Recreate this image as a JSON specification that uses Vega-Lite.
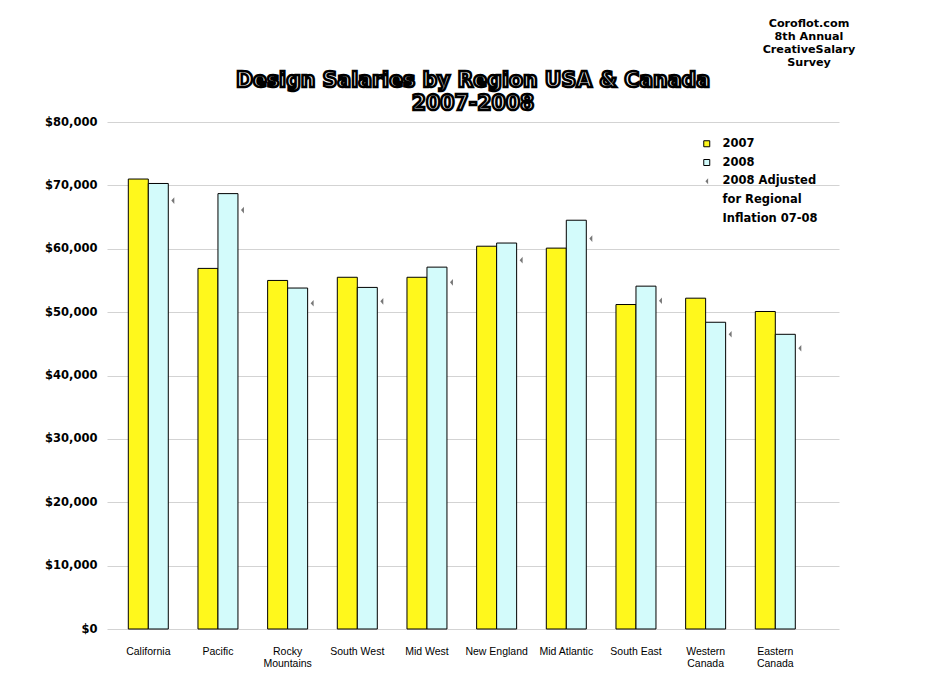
{
  "$schema": "https://vega.github.io/schema/vega-lite/v6.json",
  "background": "white",
  "padding": {"left": 44, "top": 18, "right": 10, "bottom": 10},
  "title": {
    "text": ["Coroflot.com", "8th Annual", "CreativeSalary", "Survey"],
    "anchor": "end",
    "frame": "group",
    "align": "center",
    "dx": -30,
    "font": "DejaVu Sans",
    "fontSize": 11.2,
    "fontWeight": "bold",
    "lineHeight": 13,
    "color": "black",
    "offset": 2
  },
  "data": {
    "values": [
      {"region": "California", "series": "2007", "value": 71000},
      {"region": "California", "series": "2008", "value": 70300},
      {"region": "California", "series": "2008 Adjusted", "value": 67600},
      {"region": "Pacific", "series": "2007", "value": 56900},
      {"region": "Pacific", "series": "2008", "value": 68700},
      {"region": "Pacific", "series": "2008 Adjusted", "value": 66100},
      {"region": "Rocky Mountains", "series": "2007", "value": 55000},
      {"region": "Rocky Mountains", "series": "2008", "value": 53800},
      {"region": "Rocky Mountains", "series": "2008 Adjusted", "value": 51400},
      {"region": "South West", "series": "2007", "value": 55500},
      {"region": "South West", "series": "2008", "value": 53900},
      {"region": "South West", "series": "2008 Adjusted", "value": 51700},
      {"region": "Mid West", "series": "2007", "value": 55500},
      {"region": "Mid West", "series": "2008", "value": 57100},
      {"region": "Mid West", "series": "2008 Adjusted", "value": 54700},
      {"region": "New England", "series": "2007", "value": 60400},
      {"region": "New England", "series": "2008", "value": 60900},
      {"region": "New England", "series": "2008 Adjusted", "value": 58200},
      {"region": "Mid Atlantic", "series": "2007", "value": 60100},
      {"region": "Mid Atlantic", "series": "2008", "value": 64500},
      {"region": "Mid Atlantic", "series": "2008 Adjusted", "value": 61600},
      {"region": "South East", "series": "2007", "value": 51200},
      {"region": "South East", "series": "2008", "value": 54100},
      {"region": "South East", "series": "2008 Adjusted", "value": 51800},
      {"region": "Western Canada", "series": "2007", "value": 52200},
      {"region": "Western Canada", "series": "2008", "value": 48400},
      {"region": "Western Canada", "series": "2008 Adjusted", "value": 46500},
      {"region": "Eastern Canada", "series": "2007", "value": 50100},
      {"region": "Eastern Canada", "series": "2008", "value": 46500},
      {"region": "Eastern Canada", "series": "2008 Adjusted", "value": 44300}
    ]
  },
  "vconcat": [
    {
      "width": 732,
      "height": 507,
      "title": {
        "text": ["Design Salaries by Region USA & Canada", "2007-2008"],
        "anchor": "middle",
        "font": "DejaVu Sans",
        "fontSize": 20.5,
        "fontWeight": "bold",
        "color": "white",
        "lineHeight": 23,
        "offset": 2,
        "encoding": {"stroke": {"value": "black"}, "strokeWidth": {"value": 2.5}}
      },
      "encoding": {
        "x": {
          "field": "region",
          "type": "nominal",
          "sort": ["California", "Pacific", "Rocky Mountains", "South West", "Mid West", "New England", "Mid Atlantic", "South East", "Western Canada", "Eastern Canada"],
          "scale": {"paddingInner": 0, "paddingOuter": 0.2535, "align": 0.183},
          "axis": {
            "title": null,
            "domain": false,
            "ticks": false,
            "grid": false,
            "labelAngle": 0,
            "labelPadding": 17,
            "labelFont": "Liberation Sans",
            "labelFontSize": 10.5,
            "labelColor": "black",
            "labelLineHeight": 12,
            "labelExpr": "indexof(['Rocky Mountains','Western Canada','Eastern Canada'], datum.label) >= 0 ? split(datum.label, ' ') : datum.label"
          }
        },
        "y": {
          "field": "value",
          "type": "quantitative",
          "scale": {"domain": [0, 80000], "nice": false},
          "axis": {
            "title": null,
            "values": [0, 10000, 20000, 30000, 40000, 50000, 60000, 70000, 80000],
            "format": "$,.0f",
            "domain": false,
            "ticks": false,
            "labelPadding": 10,
            "labelFont": "DejaVu Sans",
            "labelFontWeight": "bold",
            "labelFontSize": 11.5,
            "labelColor": "black",
            "gridColor": "#d3d3d3",
            "gridWidth": 1
          }
        }
      },
      "layer": [
        {
          "transform": [{"filter": "datum.series != '2008 Adjusted'"}],
          "mark": {"type": "bar", "strokeWidth": 1, "opacity": 1},
          "encoding": {
            "xOffset": {
              "field": "series",
              "type": "nominal",
              "scale": {"paddingInner": 0, "paddingOuter": 0.742}
            },
            "color": {
              "field": "series",
              "type": "nominal",
              "scale": {
                "domain": ["2007", "2008", "2008 Adjusted", "for Regional", "Inflation 07-08"],
                "range": ["#FFF81C", "#D3FBFB", "#777777", "transparent", "transparent"]
              },
              "legend": {"title": null}
            },
            "stroke": {
              "field": "series",
              "type": "nominal",
              "scale": {
                "domain": ["2007", "2008", "2008 Adjusted", "for Regional", "Inflation 07-08"],
                "range": ["black", "black", "transparent", "transparent", "transparent"]
              },
              "legend": {"title": null}
            }
          }
        },
        {
          "transform": [{"filter": "datum.series == '2008 Adjusted'"}],
          "mark": {"type": "point", "filled": true, "opacity": 1, "size": 44, "xOffset": 24.5},
          "encoding": {
            "color": {
              "field": "series",
              "type": "nominal",
              "scale": {
                "domain": ["2007", "2008", "2008 Adjusted", "for Regional", "Inflation 07-08"],
                "range": ["#FFF81C", "#D3FBFB", "#777777", "transparent", "transparent"]
              },
              "legend": {"title": null}
            },
            "stroke": {
              "field": "series",
              "type": "nominal",
              "scale": {
                "domain": ["2007", "2008", "2008 Adjusted", "for Regional", "Inflation 07-08"],
                "range": ["black", "black", "transparent", "transparent", "transparent"]
              },
              "legend": {"title": null}
            },
            "shape": {
              "field": "series",
              "type": "nominal",
              "scale": {
                "domain": ["2007", "2008", "2008 Adjusted", "for Regional", "Inflation 07-08"],
                "range": ["square", "square", "M 0.45 -1 L -0.45 0 L 0.45 1 Z", "square", "square"]
              },
              "legend": {"title": null}
            }
          }
        }
      ]
    }
  ],
  "config": {
    "view": {"stroke": null},
    "legend": {
      "orient": "none",
      "legendX": 594,
      "legendY": 16,
      "padding": 0,
      "symbolSize": 36,
      "symbolStrokeWidth": 1,
      "labelOffset": 10,
      "rowPadding": 5.75,
      "labelFont": "DejaVu Sans",
      "labelFontWeight": "bold",
      "labelFontSize": 11.5,
      "labelColor": "black",
      "labelBaseline": "middle"
    }
  }
}
